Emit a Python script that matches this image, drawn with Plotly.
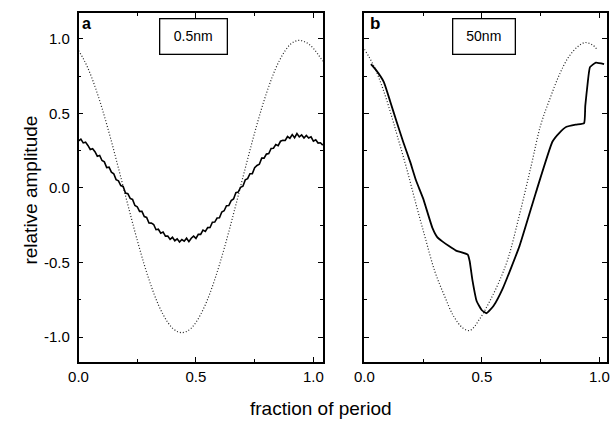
import plotly.graph_objects as go

# ---- data ----
xa_solid = [round(i * 0.01, 2) for i in range(105)]
ya_solid = [0.315, 0.327, 0.302, 0.307, 0.285, 0.258, 0.263, 0.243, 0.213, 0.218,
            0.184, 0.175, 0.137, 0.139, 0.106, 0.095, 0.056, 0.048, 0.016, 0.010,
            -0.034, -0.038, -0.070, -0.077, -0.118, -0.126, -0.157, -0.157, -0.192, -0.198,
            -0.235, -0.236, -0.245, -0.280, -0.277, -0.303, -0.295, -0.323, -0.322, -0.345,
            -0.331, -0.354, -0.341, -0.363, -0.346, -0.357, -0.337, -0.360, -0.337, -0.323,
            -0.338, -0.311, -0.311, -0.283, -0.291, -0.266, -0.265, -0.230, -0.229, -0.202,
            -0.200, -0.161, -0.153, -0.119, -0.118, -0.085, -0.074, -0.032, -0.028, 0.004,
            0.012, 0.054, 0.062, 0.095, 0.096, 0.135, 0.151, 0.159, 0.200, 0.200,
            0.227, 0.230, 0.265, 0.266, 0.291, 0.283, 0.313, 0.319, 0.318, 0.345,
            0.333, 0.358, 0.337, 0.365, 0.342, 0.355, 0.335, 0.352, 0.335, 0.343,
            0.314, 0.323, 0.301, 0.303, 0.287]

xa_dot = [round(i * 0.02, 2) for i in range(53)]
ya_dot = [0.921, 0.868, 0.803, 0.724, 0.634, 0.535, 0.427, 0.313, 0.193, 0.072,
          -0.052, -0.173, -0.293, -0.407, -0.515, -0.614, -0.704, -0.783, -0.848, -0.901,
          -0.940, -0.962, -0.970, -0.962, -0.940, -0.901, -0.848, -0.783, -0.704, -0.614,
          -0.515, -0.407, -0.293, -0.173, -0.052, 0.072, 0.193, 0.313, 0.427, 0.535,
          0.634, 0.724, 0.803, 0.868, 0.921, 0.960, 0.982, 0.990, 0.982, 0.965,
          0.935, 0.895, 0.85]

xb_dot = [0.00, 0.04, 0.08, 0.12, 0.14, 0.18, 0.22, 0.26, 0.30, 0.34, 0.38, 0.42,
          0.45, 0.49, 0.53, 0.57, 0.61, 0.66, 0.71, 0.75, 0.79, 0.83, 0.87, 0.91,
          0.94, 0.97, 0.99]
yb_dot = [0.93, 0.82, 0.66, 0.46, 0.35, 0.13, -0.11, -0.34, -0.56, -0.72, -0.86, -0.94,
          -0.955, -0.88, -0.77, -0.64, -0.48, -0.18, 0.15, 0.42, 0.60, 0.76, 0.88, 0.95,
          0.975, 0.96, 0.93]

xb_solid = [0.028, 0.05, 0.083, 0.11, 0.138, 0.165, 0.195, 0.22, 0.25, 0.29, 0.31, 0.333,
            0.36, 0.39, 0.44, 0.448, 0.46, 0.478, 0.50, 0.52, 0.55, 0.59, 0.66, 0.73,
            0.80, 0.83, 0.86, 0.90, 0.935, 0.94, 0.95, 0.96, 0.985, 1.02]
yb_solid = [0.83, 0.79, 0.71, 0.58, 0.44, 0.31, 0.175, 0.05, -0.07, -0.27, -0.33, -0.36,
            -0.39, -0.42, -0.447, -0.49, -0.62, -0.76, -0.82, -0.84, -0.79, -0.67, -0.39, -0.03,
            0.31, 0.37, 0.41, 0.425, 0.435, 0.55, 0.70, 0.81, 0.84, 0.83]

y_ticks = [-1.0, -0.5, 0.0, 0.5, 1.0]
y_ticklabels = ["-1.0", "-0.5", "0.0", "0.5", "1.0"]
x_ticks = [0.0, 0.5, 1.0]
x_ticklabels = ["0.0", "0.5", "1.0"]

FONT = "Liberation Sans, Arial, sans-serif"
DOT = "1px,2px"

fig = go.Figure()
fig.add_trace(go.Scatter(x=xa_dot, y=ya_dot, mode="lines", xaxis="x", yaxis="y",
                         line=dict(color="#222", width=1.2, dash=DOT), line_shape="spline"))
fig.add_trace(go.Scatter(x=xa_solid, y=ya_solid, mode="lines", xaxis="x", yaxis="y",
                         line=dict(color="black", width=1.6)))
fig.add_trace(go.Scatter(x=xb_dot, y=yb_dot, mode="lines", xaxis="x2", yaxis="y2",
                         line=dict(color="#222", width=1.2, dash=DOT), line_shape="spline"))
fig.add_trace(go.Scatter(x=xb_solid, y=yb_solid, mode="lines", xaxis="x2", yaxis="y2",
                         line=dict(color="black", width=1.8), line_shape="spline",
                         line_smoothing=0.4))

common_x = dict(showline=True, linecolor="black", linewidth=1.5, mirror="allticks",
                ticks="inside", ticklen=5, tickcolor="black", tickwidth=1,
                tickvals=x_ticks, ticktext=x_ticklabels, showgrid=False, zeroline=False,
                tickfont=dict(family=FONT, size=15, color="black"),
                minor=dict(ticks="inside", ticklen=3, tickcolor="black", dtick=0.25, tick0=0,
                           showgrid=False))
common_y = dict(showline=True, linecolor="black", linewidth=1.5, mirror="allticks",
                ticks="inside", ticklen=5, tickcolor="black", tickwidth=1,
                tickvals=y_ticks, ticktext=y_ticklabels, showgrid=False, zeroline=False,
                range=[-1.167, 1.173],
                tickfont=dict(family=FONT, size=15, color="black"),
                minor=dict(ticks="inside", ticklen=3, tickcolor="black", dtick=0.25, tick0=0,
                           showgrid=False))

fig.update_layout(
    width=616, height=422, margin=dict(l=0, r=0, t=0, b=0),
    paper_bgcolor="white", plot_bgcolor="white", showlegend=False,
    xaxis=dict(domain=[70 / 616, 320 / 616], range=[0, 1.042], anchor="y", **common_x),
    xaxis2=dict(domain=[362 / 616, 610 / 616], range=[0, 1.033], anchor="y2", **common_x),
    yaxis=dict(domain=[1 - 362 / 422, 1 - 13 / 422], anchor="x", ticklabelstandoff=4, **common_y),
    yaxis2=dict(domain=[1 - 362 / 422, 1 - 13 / 422], anchor="x2", showticklabels=False, **common_y),
)

annos = [
    dict(text="<b>a</b>", x=0.033, y=1.1, xref="x", yref="y", showarrow=False,
         font=dict(family=FONT, size=16, color="black")),
    dict(text="<b>b</b>", x=0.045, y=1.1, xref="x2", yref="y2", showarrow=False,
         font=dict(family=FONT, size=17, color="black")),
    dict(text="0.5nm", x=0.49, y=1.013, xref="x", yref="y", showarrow=False,
         font=dict(family=FONT, size=14, color="black"), bordercolor="black", borderwidth=1.3,
         borderpad=9, bgcolor="white", width=48),
    dict(text="50nm", x=0.51, y=1.013, xref="x2", yref="y2", showarrow=False,
         font=dict(family=FONT, size=14, color="black"), bordercolor="black", borderwidth=1.3,
         borderpad=9, bgcolor="white", width=43),
    dict(text="relative amplitude", x=20 / 616, y=1 - 190 / 422, xref="paper", yref="paper",
         xanchor="center", yanchor="middle",
         showarrow=False, textangle=-90, font=dict(family=FONT, size=19, color="black")),
    dict(text="fraction of period", x=318 / 616, y=1 - 408 / 422, xref="paper", yref="paper",
         xanchor="center", yanchor="middle",
         showarrow=False, font=dict(family=FONT, size=19, color="black")),
]
fig.update_layout(annotations=annos)

fig.write_html("out.html")
